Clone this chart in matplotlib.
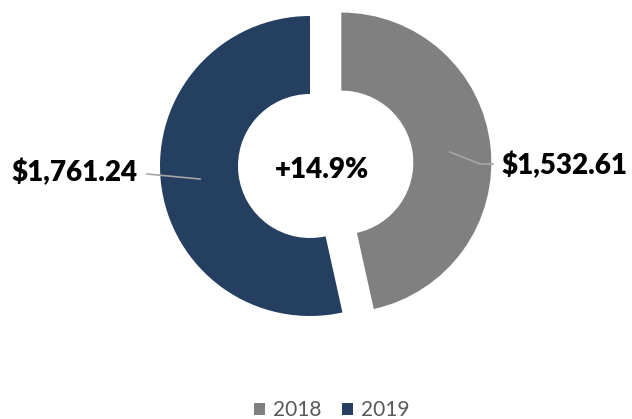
import matplotlib
matplotlib.use("Agg")
import matplotlib.pyplot as plt

# data
years = ["2018", "2019"]
sales = [1532.61, 1761.24]
colors = ["#808080", "#243F60"]

plt.rcParams['font.family'] = ['Lato', 'DejaVu Sans']

# pixel helpers (1 data unit = one outer radius, 150 px)
R = 150.0
CX, CY = 310.0, 166.0
W, H = 632, 419


def px(x, y):
    return (x - CX) / R, (CY - y) / R


fig = plt.figure(figsize=(W / 100, H / 100), dpi=100)
ax = fig.add_axes([0, 0, 1, 1])

wedges, _ = ax.pie(sales, colors=colors, startangle=90, counterclock=False,
                   explode=[0.21, 0], radius=1.0,
                   wedgeprops=dict(width=0.52, linewidth=0))

ax.set_xlim(-CX / R, (W - CX) / R)
ax.set_ylim(-(H - CY) / R, CY / R)
ax.set_aspect('auto')
ax.axis('off')

# value labels with leader lines
lc = "#A6A6A6"
x0, y0 = px(147, 174)
x1, y1 = px(200, 179)
ax.plot([x0, x1], [y0, y1], color=lc, lw=1.2)
x0, y0 = px(450, 152)
x1, y1 = px(480, 164)
x2, y2 = px(493, 164)
ax.plot([x0, x1, x2], [y0, y1, y2], color=lc, lw=1.2)

tx, ty = px(74, 172)
ax.text(tx, ty, f"${sales[1]:,.2f}", ha='center', va='center',
        fontsize=20, fontweight='heavy', color='black')
tx, ty = px(564, 165)
ax.text(tx, ty, f"${sales[0]:,.2f}", ha='center', va='center',
        fontsize=20, fontweight='heavy', color='black')

growth = (sales[1] / sales[0] - 1) * 100
tx, ty = px(322, 170)
ax.text(tx, ty, f"+{growth:.1f}%", ha='center', va='center',
        fontsize=20, fontweight='heavy', color='black')

ax.legend(wedges, years, loc='center', bbox_to_anchor=(332 / W, 1 - 410 / H),
          ncol=2, frameon=False, fontsize=15, labelcolor='#595959',
          handlelength=0.5, handleheight=0.5, handletextpad=0.4,
          columnspacing=1.0)

fig.savefig("out.png", dpi=100)
